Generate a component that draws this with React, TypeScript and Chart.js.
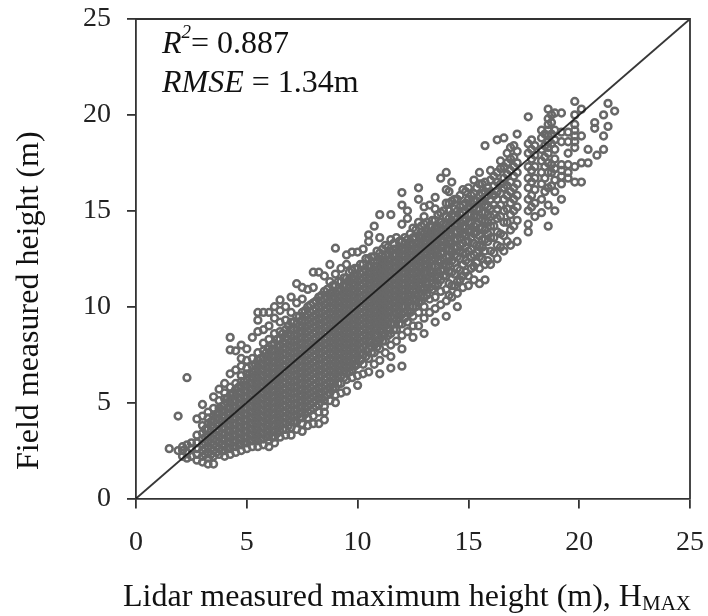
import React, { useEffect, useRef } from "react";
import { Chart, registerables } from "chart.js";

Chart.register(...registerables);

const axisTicks = [0, 5, 10, 15, 20, 25];
const oneToOneLine = [0, 25];
const r2Text = "0.887";
const rmseText = "1.34m";
const xTitle = "Lidar measured maximum height (m), H";
const xTitleSub = "MAX";
const yTitle = "Field measured height (m)";

// Lidar height of each column of points, and the field heights read in that column
const lidarColumns = [
  1.5, 1.9, 2.1, 2.3, 2.5, 2.75, 3.0, 3.25, 3.5, 3.75, 4.0, 4.25, 4.5, 4.75, 5.0, 5.25, 5.5, 5.75, 6.0, 6.25,
  6.5, 6.75, 7.0, 7.25, 7.5, 7.75, 8.0, 8.25, 8.5, 8.75, 9.0, 9.25, 9.5, 9.75, 10.0, 10.25, 10.5, 10.75, 11.0, 11.25,
  11.5, 11.75, 12.0, 12.25, 12.5, 12.75, 13.0, 13.25, 13.5, 13.75, 14.0, 14.25, 14.5, 14.75, 15.0, 15.25, 15.5, 15.75, 16.0,
  16.3, 16.6, 16.9, 17.2, 17.7, 18.0, 18.3, 18.6, 18.9, 19.2, 19.5, 19.8, 20.1, 20.4, 20.7, 20.8, 21.1, 21.3, 21.6,
];
const fieldColumns = [
  [2.6], [4.3, 2.5], [2.2, 2.5, 2.7], [2.1, 2.4, 2.8, 6.3], [2.2, 2.6, 2.9],
  [2.0, 2.3, 2.6, 2.9, 3.3, 4.15], [1.9, 2.2, 2.5, 2.8, 3.1, 3.4, 3.8, 4.3, 4.9], [1.8, 2.1, 2.4, 2.7, 3.0, 3.3, 3.6, 3.9, 4.2, 4.5],
  [1.8, 2.2, 2.5, 2.8, 3.1, 3.4, 3.7, 4.0, 4.3, 4.7, 5.3], [2.3, 2.6, 2.9, 3.2, 3.5, 3.8, 4.1, 4.4, 4.7, 5.1, 5.7],
  [2.2, 2.5, 2.8, 3.1, 3.4, 3.7, 4.0, 4.3, 4.6, 4.9, 5.2, 5.5, 6.0], [2.3, 2.6, 2.9, 3.2, 3.5, 3.8, 4.1, 4.4, 4.7, 5.0, 5.4, 5.8, 6.5, 7.75, 8.4],
  [2.4, 2.7, 3.0, 3.3, 3.6, 3.9, 4.2, 4.5, 4.8, 5.1, 5.4, 5.7, 6.0, 6.7, 7.7], [2.5, 2.8, 3.1, 3.4, 3.7, 4.0, 4.3, 4.6, 4.9, 5.2, 5.5, 5.8, 6.1, 6.4, 6.9, 7.3, 8.0],
  [2.6, 2.9, 3.2, 3.5, 3.8, 4.1, 4.4, 4.7, 5.0, 5.3, 5.6, 5.9, 6.2, 6.5, 6.8, 7.2, 7.8], [2.7, 3.0, 3.3, 3.6, 3.9, 4.2, 4.5, 4.8, 5.1, 5.4, 5.7, 6.0, 6.3, 6.6, 6.9, 7.3, 8.4],
  [2.7, 3.0, 3.3, 3.6, 3.9, 4.2, 4.5, 4.8, 5.1, 5.4, 5.7, 6.0, 6.3, 6.6, 6.9, 7.2, 7.6, 8.7, 9.3, 9.7], [2.8, 3.1, 3.4, 3.7, 4.0, 4.3, 4.6, 4.9, 5.2, 5.5, 5.8, 6.1, 6.4, 6.7, 7.0, 7.3, 7.7, 8.1, 8.8, 9.7],
  [2.7, 3.0, 3.3, 3.6, 3.9, 4.2, 4.5, 4.8, 5.1, 5.4, 5.7, 6.0, 6.3, 6.6, 6.9, 7.2, 7.5, 7.8, 8.3, 9.0, 9.7], [2.9, 3.2, 3.5, 3.8, 4.1, 4.4, 4.7, 5.0, 5.3, 5.6, 5.9, 6.2, 6.5, 6.8, 7.1, 7.4, 7.7, 8.1, 8.6, 9.4, 10.0],
  [3.2, 3.5, 3.8, 4.1, 4.4, 4.7, 5.0, 5.3, 5.6, 5.9, 6.2, 6.5, 6.8, 7.1, 7.4, 7.7, 8.0, 8.3, 8.7, 9.2, 9.8, 10.35], [3.3, 3.6, 3.9, 4.2, 4.5, 4.8, 5.1, 5.4, 5.7, 6.0, 6.3, 6.6, 6.9, 7.2, 7.5, 7.8, 8.1, 8.4, 8.8, 9.3, 10.0],
  [3.3, 3.7, 4.0, 4.3, 4.6, 4.9, 5.2, 5.5, 5.8, 6.1, 6.4, 6.7, 7.0, 7.3, 7.6, 7.9, 8.2, 8.5, 8.8, 9.2, 9.7, 10.5], [3.6, 4.0, 4.3, 4.6, 4.9, 5.2, 5.5, 5.8, 6.1, 6.4, 6.7, 7.0, 7.3, 7.6, 7.9, 8.2, 8.5, 8.8, 9.1, 9.5, 10.2, 11.2],
  [3.5, 3.9, 4.2, 4.5, 4.8, 5.1, 5.4, 5.7, 6.0, 6.3, 6.6, 6.9, 7.2, 7.5, 7.8, 8.1, 8.4, 8.7, 9.0, 9.3, 9.7, 10.4, 11.0], [3.8, 4.2, 4.5, 4.8, 5.1, 5.4, 5.7, 6.0, 6.3, 6.6, 6.9, 7.2, 7.5, 7.8, 8.1, 8.4, 8.7, 9.0, 9.3, 9.6, 10.0, 10.9],
  [3.9, 4.3, 4.7, 5.0, 5.3, 5.6, 5.9, 6.2, 6.5, 6.8, 7.1, 7.4, 7.7, 8.0, 8.3, 8.6, 8.9, 9.2, 9.5, 9.8, 10.2, 11.0, 11.8], [3.9, 4.5, 4.9, 5.2, 5.5, 5.8, 6.1, 6.4, 6.7, 7.0, 7.3, 7.6, 7.9, 8.2, 8.5, 8.8, 9.1, 9.4, 9.7, 10.0, 10.5, 11.8],
  [4.1, 4.5, 4.8, 5.1, 5.3, 5.6, 5.9, 6.2, 6.5, 6.8, 7.1, 7.4, 7.7, 8.0, 8.3, 8.6, 8.9, 9.2, 9.5, 9.8, 10.1, 10.4, 10.8, 11.6], [5.1, 5.5, 5.8, 6.1, 6.4, 6.7, 7.0, 7.3, 7.6, 7.9, 8.2, 8.5, 8.8, 9.1, 9.4, 9.7, 10.0, 10.3, 10.7, 11.3, 12.2],
  [5.0, 5.4, 5.8, 6.2, 6.5, 6.8, 7.1, 7.4, 7.7, 8.0, 8.3, 8.6, 8.9, 9.2, 9.5, 9.8, 10.1, 10.4, 10.7, 11.1, 11.7, 13.05], [5.5, 6.0, 6.4, 6.7, 7.0, 7.3, 7.6, 7.9, 8.2, 8.5, 8.8, 9.1, 9.4, 9.7, 10.0, 10.3, 10.6, 10.9, 11.3, 12.0],
  [5.6, 6.2, 6.6, 6.9, 7.2, 7.5, 7.8, 8.1, 8.4, 8.7, 9.0, 9.3, 9.6, 9.9, 10.2, 10.5, 10.8, 11.1, 11.5, 12.2, 12.7], [6.3, 6.7, 7.0, 7.3, 7.6, 7.9, 8.2, 8.5, 8.8, 9.1, 9.4, 9.7, 10.0, 10.3, 10.6, 10.9, 11.2, 11.5, 11.9, 12.85],
  [5.9, 6.4, 7.0, 7.4, 7.7, 8.0, 8.3, 8.6, 8.9, 9.2, 9.5, 9.8, 10.1, 10.4, 10.7, 11.0, 11.3, 11.6, 12.0, 12.85], [6.5, 7.0, 7.5, 7.9, 8.2, 8.5, 8.8, 9.1, 9.4, 9.7, 10.0, 10.3, 10.6, 10.9, 11.2, 11.5, 11.8, 12.2, 13.0],
  [6.6, 7.3, 7.8, 8.2, 8.5, 8.8, 9.1, 9.4, 9.7, 10.0, 10.3, 10.6, 10.9, 11.2, 11.5, 11.8, 12.1, 12.5, 13.4, 13.75], [7.0, 7.6, 8.1, 8.5, 8.8, 9.1, 9.4, 9.7, 10.0, 10.3, 10.6, 10.9, 11.2, 11.5, 11.8, 12.1, 12.6, 14.2],
  [6.5, 7.2, 7.8, 8.3, 8.7, 9.0, 9.3, 9.6, 9.9, 10.2, 10.5, 10.8, 11.1, 11.4, 11.7, 12.0, 12.3, 12.8, 13.6, 14.8], [7.6, 8.2, 8.6, 9.0, 9.3, 9.6, 9.9, 10.2, 10.5, 10.8, 11.1, 11.4, 11.7, 12.0, 12.3, 12.7, 13.2],
  [6.8, 7.4, 8.0, 8.6, 9.1, 9.5, 9.8, 10.1, 10.4, 10.7, 11.0, 11.3, 11.6, 11.9, 12.2, 12.5, 12.9, 13.5, 14.8], [8.2, 8.8, 9.3, 9.7, 10.0, 10.3, 10.6, 10.9, 11.2, 11.5, 11.8, 12.1, 12.4, 12.7, 13.0, 13.6],
  [6.9, 7.8, 8.5, 9.1, 9.6, 10.0, 10.3, 10.6, 10.9, 11.2, 11.5, 11.8, 12.1, 12.4, 12.7, 13.0, 13.4, 14.3, 15.3, 15.95], [8.7, 9.2, 9.8, 10.3, 10.7, 11.0, 11.3, 11.6, 11.9, 12.2, 12.5, 12.8, 13.1, 13.5, 14.6, 15.0],
  [8.4, 9.0, 9.5, 10.0, 10.4, 10.8, 11.1, 11.4, 11.7, 12.0, 12.3, 12.6, 12.9, 13.2, 13.6, 14.1], [9.0, 9.7, 10.2, 10.7, 11.1, 11.5, 11.8, 12.1, 12.4, 12.7, 13.0, 13.3, 13.7, 14.4, 15.6, 16.2],
  [8.6, 9.4, 10.0, 10.5, 11.0, 11.4, 11.8, 12.2, 12.5, 12.8, 13.1, 13.4, 13.8, 14.3, 14.7, 15.2], [9.7, 10.4, 11.0, 11.5, 11.9, 12.3, 12.6, 12.9, 13.2, 13.5, 13.8, 14.2, 15.3],
  [9.2, 9.9, 10.5, 11.1, 11.6, 12.1, 12.5, 12.9, 13.2, 13.5, 13.8, 14.1, 14.5, 15.1, 15.7], [10.1, 10.8, 11.4, 11.9, 12.4, 12.8, 13.1, 13.4, 13.7, 14.0, 14.4, 14.9, 16.7],
  [9.5, 10.3, 10.9, 11.6, 12.1, 12.6, 13.0, 13.3, 13.7, 14.0, 14.3, 14.7, 15.4, 16.1, 17.0], [10.5, 11.1, 11.8, 12.4, 12.9, 13.3, 13.7, 14.1, 14.4, 14.8, 15.5, 16.5],
  [10.0, 10.7, 11.3, 12.0, 12.6, 13.1, 13.5, 13.9, 14.3, 14.6, 15.0, 15.6], [11.0, 11.6, 12.2, 12.8, 13.3, 13.8, 14.2, 14.5, 14.9, 15.3, 16.1],
  [11.1, 11.6, 12.3, 12.9, 13.4, 13.9, 14.4, 14.8, 15.2, 15.6, 16.2], [11.4, 12.1, 12.7, 13.3, 13.8, 14.2, 14.7, 15.2, 15.5, 15.9, 16.6],
  [11.2, 12.0, 12.6, 13.2, 13.7, 14.1, 14.6, 15.1, 15.4, 15.8, 16.4, 17.0], [11.4, 12.2, 12.9, 13.5, 14.0, 14.5, 14.9, 15.3, 15.7, 16.0, 16.5, 18.4],
  [12.2, 12.9, 13.6, 14.2, 14.7, 15.1, 15.6, 16.0, 16.6, 17.1],
  [12.5, 13.2, 13.9, 14.6, 15.1, 15.6, 16.0, 16.5, 17.0, 18.7], [12.9, 13.7, 14.4, 15.0, 15.6, 16.2, 16.7, 17.3, 18.8],
  [13.2, 14.0, 14.8, 15.4, 16.0, 16.5, 17.1, 17.7, 18.3], [13.4, 14.5, 15.2, 15.8, 16.4, 17.0, 17.5, 18.1, 19.0],
  [13.9, 14.3, 15.0, 15.6, 16.2, 16.7, 17.3, 18.0, 18.5, 19.9], [14.7, 15.4, 16.1, 16.7, 17.3, 17.9, 18.4],
  [14.9, 15.6, 16.4, 17.0, 17.6, 18.2, 18.8, 19.2], [14.2, 15.3, 16.2, 17.0, 17.5, 18.0, 18.3, 18.6, 18.9, 19.2, 19.5, 19.8, 20.3],
  [15.0, 16.0, 16.6, 17.2, 17.7, 18.2, 18.7, 19.2, 20.1], [15.6, 16.4, 16.8, 17.1, 17.4, 18.6, 19.1, 20.1],
  [16.7, 17.0, 17.4, 18.0, 18.6, 19.1], [16.5, 17.3, 18.3, 18.6, 18.9, 19.2, 19.5, 20.0, 20.7],
  [16.5, 17.5, 18.9, 20.3], [17.5, 18.2], [19.3, 19.6], [17.9], [18.2, 18.9, 20.0], [19.4, 20.6], [20.2],
];

// Points in the solid core, read between the columns above
const coreLidar = [
  3.125, 3.375, 3.625, 3.875, 4.125, 4.375, 4.625, 4.875, 5.125, 5.375, 5.625, 5.875, 6.125, 6.375, 6.625, 6.875,
  7.125, 7.375, 7.625, 7.875, 8.125, 8.375, 8.625, 8.875, 9.125, 9.375, 9.625, 9.875, 10.125, 10.375, 10.625, 10.875,
  11.125, 11.375, 11.625, 11.875, 12.125, 12.375, 12.625, 12.875, 13.125, 13.375, 13.625, 13.875,
];
const coreField = [
  [2.3, 2.6, 2.9, 3.2, 3.6], [2.3, 2.6, 2.9, 3.2, 3.5, 3.8, 4.0], [2.4, 2.7, 3.0, 3.3, 3.6, 3.9, 4.2, 4.4],
  [2.5, 2.8, 3.1, 3.4, 3.7, 4.0, 4.3, 4.6, 4.8], [2.6, 2.9, 3.2, 3.5, 3.8, 4.1, 4.4, 4.7, 5.0, 5.2], [2.7, 3.0, 3.3, 3.6, 3.9, 4.2, 4.5, 4.8, 5.1, 5.5],
  [2.8, 3.1, 3.4, 3.7, 4.0, 4.3, 4.6, 4.9, 5.2, 5.5, 5.8], [2.9, 3.2, 3.5, 3.8, 4.1, 4.4, 4.7, 5.0, 5.3, 5.6, 5.9, 6.1], [3.0, 3.3, 3.6, 3.9, 4.2, 4.5, 4.8, 5.1, 5.4, 5.7, 6.0, 6.3, 6.5],
  [3.1, 3.4, 3.7, 4.0, 4.3, 4.6, 4.9, 5.2, 5.5, 5.8, 6.1, 6.4, 6.7, 7.0], [3.1, 3.4, 3.7, 4.0, 4.3, 4.6, 4.9, 5.2, 5.5, 5.8, 6.1, 6.4, 6.7, 7.0, 7.3], [3.2, 3.5, 3.8, 4.1, 4.4, 4.7, 5.0, 5.3, 5.6, 5.9, 6.2, 6.5, 6.8, 7.1, 7.4, 7.6],
  [3.2, 3.5, 3.8, 4.1, 4.4, 4.7, 5.0, 5.3, 5.6, 5.9, 6.2, 6.5, 6.8, 7.1, 7.4, 7.7, 8.0], [3.4, 3.7, 4.0, 4.3, 4.6, 4.9, 5.2, 5.5, 5.8, 6.1, 6.4, 6.7, 7.0, 7.3, 7.6, 7.9, 8.3], [3.6, 3.9, 4.2, 4.5, 4.8, 5.1, 5.4, 5.7, 6.0, 6.3, 6.6, 6.9, 7.2, 7.5, 7.8, 8.1, 8.6],
  [3.8, 4.1, 4.4, 4.7, 5.0, 5.3, 5.6, 5.9, 6.2, 6.5, 6.8, 7.1, 7.4, 7.7, 8.0, 8.3, 8.6, 9.0], [4.0, 4.3, 4.6, 4.9, 5.2, 5.5, 5.8, 6.1, 6.4, 6.7, 7.0, 7.3, 7.6, 7.9, 8.2, 8.5, 8.8, 9.2], [4.2, 4.5, 4.8, 5.1, 5.4, 5.7, 6.0, 6.3, 6.6, 6.9, 7.2, 7.5, 7.8, 8.1, 8.4, 8.7, 9.0, 9.5],
  [4.4, 4.7, 5.0, 5.3, 5.6, 5.9, 6.2, 6.5, 6.8, 7.1, 7.4, 7.7, 8.0, 8.3, 8.6, 8.9, 9.2, 9.5, 9.8], [4.6, 4.9, 5.2, 5.5, 5.8, 6.1, 6.4, 6.7, 7.0, 7.3, 7.6, 7.9, 8.2, 8.5, 8.8, 9.1, 9.4, 9.7, 10.1], [4.8, 5.1, 5.4, 5.7, 6.0, 6.3, 6.6, 6.9, 7.2, 7.5, 7.8, 8.1, 8.4, 8.7, 9.0, 9.3, 9.6, 9.9, 10.3],
  [5.2, 5.5, 5.8, 6.1, 6.4, 6.7, 7.0, 7.3, 7.6, 7.9, 8.2, 8.5, 8.8, 9.1, 9.4, 9.7, 10.0, 10.3, 10.6], [5.4, 5.7, 6.0, 6.3, 6.6, 6.9, 7.2, 7.5, 7.8, 8.1, 8.4, 8.7, 9.0, 9.3, 9.6, 9.9, 10.2, 10.5, 10.9], [5.7, 6.0, 6.3, 6.6, 6.9, 7.2, 7.5, 7.8, 8.1, 8.4, 8.7, 9.0, 9.3, 9.6, 9.9, 10.2, 10.5, 10.8, 11.1],
  [6.0, 6.3, 6.6, 6.9, 7.2, 7.5, 7.8, 8.1, 8.4, 8.7, 9.0, 9.3, 9.6, 9.9, 10.2, 10.5, 10.8, 11.3], [6.3, 6.6, 6.9, 7.2, 7.5, 7.8, 8.1, 8.4, 8.7, 9.0, 9.3, 9.6, 9.9, 10.2, 10.5, 10.8, 11.1, 11.5], [6.6, 6.9, 7.2, 7.5, 7.8, 8.1, 8.4, 8.7, 9.0, 9.3, 9.6, 9.9, 10.2, 10.5, 10.8, 11.1, 11.4, 11.8],
  [6.9, 7.2, 7.5, 7.8, 8.1, 8.4, 8.7, 9.0, 9.3, 9.6, 9.9, 10.2, 10.5, 10.8, 11.1, 11.4, 11.7, 12.0], [7.2, 7.5, 7.8, 8.1, 8.4, 8.7, 9.0, 9.3, 9.6, 9.9, 10.2, 10.5, 10.8, 11.1, 11.4, 11.7, 12.2], [7.4, 7.7, 8.0, 8.3, 8.6, 8.9, 9.2, 9.5, 9.8, 10.1, 10.4, 10.7, 11.0, 11.3, 11.6, 11.9, 12.5],
  [7.6, 7.9, 8.2, 8.5, 8.8, 9.1, 9.4, 9.7, 10.0, 10.3, 10.6, 10.9, 11.2, 11.5, 11.8, 12.1, 12.6], [7.9, 8.2, 8.5, 8.8, 9.1, 9.4, 9.7, 10.0, 10.3, 10.6, 10.9, 11.2, 11.5, 11.8, 12.1, 12.4, 12.9], [8.2, 8.5, 8.8, 9.1, 9.4, 9.7, 10.0, 10.3, 10.6, 10.9, 11.2, 11.5, 11.8, 12.1, 12.4, 12.7, 13.0],
  [8.5, 8.8, 9.1, 9.4, 9.7, 10.0, 10.3, 10.6, 10.9, 11.2, 11.5, 11.8, 12.1, 12.4, 12.7, 13.1], [8.8, 9.1, 9.4, 9.7, 10.0, 10.3, 10.6, 10.9, 11.2, 11.5, 11.8, 12.1, 12.4, 12.7, 13.0, 13.3], [9.1, 9.4, 9.7, 10.0, 10.3, 10.6, 10.9, 11.2, 11.5, 11.8, 12.1, 12.4, 12.7, 13.0, 13.4],
  [9.4, 9.7, 10.0, 10.3, 10.6, 10.9, 11.2, 11.5, 11.8, 12.1, 12.4, 12.7, 13.0, 13.3, 13.6], [9.7, 10.0, 10.3, 10.6, 10.9, 11.2, 11.5, 11.8, 12.1, 12.4, 12.7, 13.0, 13.3, 13.8], [10.0, 10.3, 10.6, 10.9, 11.2, 11.5, 11.8, 12.1, 12.4, 12.7, 13.0, 13.3, 13.6, 14.0],
  [10.3, 10.6, 10.9, 11.2, 11.5, 11.8, 12.1, 12.4, 12.7, 13.0, 13.3, 13.6, 13.9, 14.2], [10.6, 10.9, 11.2, 11.5, 11.8, 12.1, 12.4, 12.7, 13.0, 13.3, 13.6, 13.9, 14.4], [10.9, 11.2, 11.5, 11.8, 12.1, 12.4, 12.7, 13.0, 13.3, 13.6, 13.9, 14.2, 14.5],
  [11.2, 11.5, 11.8, 12.1, 12.4, 12.7, 13.0, 13.3, 13.6, 13.9, 14.2, 14.8], [11.6, 11.9, 12.2, 12.5, 12.8, 13.1, 13.4, 13.7, 14.0, 14.3, 15.0],
];

// Points of the looser upper band, where the reference shows gaps between rings
const upperLidar = [14.125, 14.375, 14.625, 14.875, 15.125, 15.375, 15.625, 15.875, 16.15, 16.45, 16.75, 17.05, 17.85, 18.45, 18.75];
const upperField = [
  [10.6, 11.2, 11.8, 12.2, 12.6, 13.0, 13.4, 13.8, 14.2, 14.6, 15.0, 15.4, 16.0],
  [11.1, 11.7, 12.3, 12.7, 13.1, 13.5, 13.9, 14.3, 14.7, 15.1, 15.6],
  [11.4, 11.9, 12.5, 12.9, 13.2, 13.6, 14.0, 14.4, 14.8, 15.2, 15.8],
  [11.8, 12.4, 12.8, 13.4, 13.7, 14.1, 14.5, 15.0, 15.4, 16.0],
  [12.0, 12.6, 13.0, 13.6, 14.0, 14.4, 14.8, 15.4, 15.8],
  [12.3, 12.8, 13.2, 13.9, 14.3, 14.7, 15.1, 15.5, 16.2],
  [12.5, 13.1, 13.5, 14.1, 14.5, 14.9, 15.5, 15.9, 16.4],
  [12.4, 13.4, 13.8, 14.4, 14.8, 15.2, 15.8, 16.2],
  [12.8, 13.6, 14.2, 14.8, 15.3, 15.8, 16.3, 16.8],
  [13.1, 13.8, 14.7, 15.3, 15.9, 16.4, 17.2, 17.6],
  [13.4, 14.4, 15.1, 15.8, 16.3, 16.9, 17.5, 18.0],
  [14.2, 15.0, 15.6, 16.2, 16.8, 17.3, 17.8, 18.4],
  [15.2, 15.8, 16.5, 17.1, 17.7, 18.2, 18.7],
  [16.0, 16.7, 17.3, 17.8, 18.4, 19.0],
  [16.3, 17.0, 17.4, 18.5, 19.0, 19.6, 20.0],
];

const toPoints = (xs: number[], rows: number[][]) => xs.flatMap((x, i) => rows[i].map((y) => ({ x, y })));
const scatterPoints = [
  ...toPoints(lidarColumns, fieldColumns),
  ...toPoints(coreLidar, coreField),
  ...toPoints(upperLidar, upperField),
];
const linePoints = oneToOneLine.map((v) => ({ x: v, y: v }));

const INK = "#333333";
const SERIF = "'Liberation Serif', 'Times New Roman', serif";

const annotations = {
  id: "annotations",
  afterDraw(chart: any) {
    const { ctx, chartArea: a } = chart;
    ctx.save();
    ctx.strokeStyle = INK;
    ctx.lineWidth = 1.8;
    ctx.beginPath();
    ctx.moveTo(a.left, a.top);
    ctx.lineTo(a.right, a.top);
    ctx.lineTo(a.right, a.bottom);
    ctx.stroke();

    ctx.fillStyle = "#111111";
    ctx.textBaseline = "alphabetic";
    ctx.textAlign = "left";
    const run = (text: string, x: number, y: number, font: string) => {
      ctx.font = font;
      ctx.fillText(text, x, y);
      return x + ctx.measureText(text).width;
    };
    const size = 32;
    const it = `italic ${size}px ${SERIF}`;
    const up = `${size}px ${SERIF}`;
    let x = run("R", 162, 53, it);
    x = run("2", x, 38, `italic 19px ${SERIF}`);
    run(`= ${r2Text}`, x, 53, up);
    x = run("RMSE", 162, 92, it);
    run(` = ${rmseText}`, x, 92, up);

    x = run(xTitle, 123, 606, up);
    run(xTitleSub, x, 610, `21px ${SERIF}`);

    ctx.translate(38, 470);
    ctx.rotate(-Math.PI / 2);
    run(yTitle, 0, 0, up);
    ctx.restore();
  },
};

export default function App() {
  const ref = useRef<HTMLCanvasElement>(null);
  useEffect(() => {
    const chart = new Chart(ref.current!, {
      type: "scatter",
      data: {
        datasets: [
          {
            type: "line",
            data: linePoints,
            borderColor: "rgba(20,20,20,0.85)",
            borderWidth: 1.9,
            pointRadius: 0,
            order: 0,
          },
          {
            data: scatterPoints,
            pointRadius: 3.4,
            borderWidth: 2.5,
            borderColor: "#686868",
            backgroundColor: "rgba(255,255,255,0)",
            order: 1,
          },
        ],
      },
      plugins: [annotations],
      options: {
        animation: false,
        responsive: false,
        layout: { padding: { top: 19, right: 18, left: 0, bottom: 0 } },
        plugins: { legend: { display: false }, tooltip: { enabled: false } },
        scales: {
          x: {
            type: "linear",
            min: 0,
            max: 25,
            afterBuildTicks: (s: any) => {
              s.ticks = axisTicks.map((value) => ({ value }));
            },
            afterFit: (s: any) => {
              s.height = 117.5;
              s.paddingLeft = 0;
              s.paddingRight = 0;
            },
            border: { color: INK, width: 1.8 },
            grid: { drawOnChartArea: false, drawTicks: true, tickLength: 10, color: INK, lineWidth: 1.8 },
            ticks: { color: "#222222", font: { family: SERIF, size: 28 }, padding: 17, maxRotation: 0, autoSkip: false },
          },
          y: {
            type: "linear",
            min: 0,
            max: 25,
            afterBuildTicks: (s: any) => {
              s.ticks = axisTicks.map((value) => ({ value }));
            },
            afterFit: (s: any) => {
              s.width = 136;
              s.paddingTop = 0;
              s.paddingBottom = 0;
            },
            border: { color: INK, width: 1.8 },
            grid: { drawOnChartArea: false, drawTicks: true, tickLength: 9, color: INK, lineWidth: 1.8 },
            ticks: { color: "#222222", font: { family: SERIF, size: 28 }, padding: 16, autoSkip: false },
          },
        },
      },
    } as any);
    return () => chart.destroy();
  }, []);
  return (
    <div style={{ position: "fixed", left: 0, top: 0, width: 708, height: 616, background: "#fff" }}>
      <canvas ref={ref} width={708} height={616} style={{ display: "block" }} />
    </div>
  );
}
